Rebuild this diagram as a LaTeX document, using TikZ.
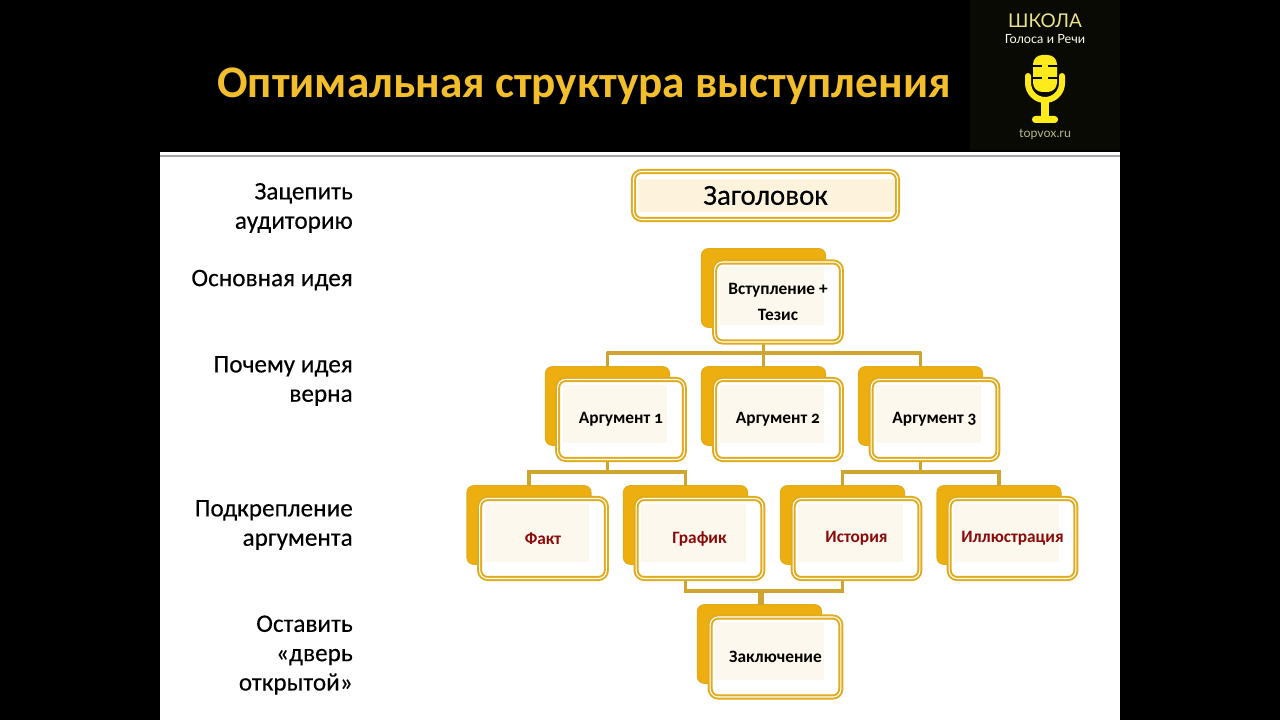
\documentclass[tikz,border=0pt]{standalone}
\usepackage{fontspec}
\setmainfont[Numbers=OldStyle]{Carlito}
\newfontfamily\sidefont[FakeBold=0.25]{Carlito}
\newfontfamily\logofont{Lato}
\usetikzlibrary{calc}
\definecolor{amber}{HTML}{EDAE0F}
\definecolor{goldline}{HTML}{E0AC1E}
\definecolor{linkgold}{HTML}{CFA52F}
\definecolor{tintbox}{HTML}{FDF8EE}
\definecolor{tinthead}{HTML}{FDF3DC}
\definecolor{titlegold}{HTML}{F2BE2C}
\definecolor{micyellow}{HTML}{FFEA1C}
\definecolor{redtext}{HTML}{8A0A0A}
\definecolor{logoback}{HTML}{0A0A05}
\tikzset{
 backbox/.style={draw=goldline,fill=amber,line width=0.8pt,rounded corners=5pt,minimum width=93pt,minimum height=59pt,inner sep=0pt,outer sep=0pt},
 frontbox/.style={draw=goldline,double=white,line width=1.5pt,double distance=0.8pt,rounded corners=6pt,fill=white,minimum width=95pt,minimum height=60pt,inner sep=0pt,outer sep=0pt,align=center,font=\fontsize{13}{19.5}\selectfont\bfseries,
  path picture={\fill[tintbox,sharp corners] ($(path picture bounding box.north west)+(5,5)$) rectangle ($(path picture bounding box.south east)+(-17,-17)$);}},
 sidetext/.style={anchor=east,align=right,inner sep=0pt,font=\sidefont\fontsize{18.9}{22}\selectfont},
 linkline/.style={draw=linkgold,line width=2.8pt},
 logotext/.style={inner sep=0pt}
}
\begin{document}
\begin{tikzpicture}[x=0.75pt,y=-0.75pt]
 \useasboundingbox (0,0) rectangle (1280,720);
 \fill[black] (0,0) rectangle (1280,720);
 \fill[white] (160,152) rectangle (1120,720);
 \fill[gray!70] (160,155.5) rectangle (1120,157);
 \fill[logoback] (970,0) rectangle (1120,150);
 % heading and logo
 \node[inner sep=0pt,text=titlegold,font=\fontsize{33.9}{38}\selectfont\bfseries] (heading) at (584,86) {Оптимальная структура выступления};
 \node[logotext,text=yellow!45!white!90!black,font=\logofont\fontsize{14.2}{16}\selectfont] (school) at (1045,21) {ШКОЛА};
 \node[logotext,text=white!92!yellow,font=\logofont\fontsize{9.5}{10}\selectfont] (voice) at (1045,39) {Голоса и Речи};
 \node[logotext,text=yellow!30!gray!90!white,font=\logofont\fontsize{9.3}{10}\selectfont] (site) at (1045,134) {topvox.ru};
 \fill[micyellow,rounded corners=7pt] (1033,55) rectangle (1057,92);
 \foreach \y in {66,78} {
  \draw[logoback,line width=1.6pt] (1032,\y) -- (1042,\y);
  \draw[logoback,line width=1.6pt] (1048,\y) -- (1058,\y);
 }
 \draw[micyellow,line width=4.5pt,line cap=round] (1028,76) -- (1028,83) arc (180:0:17) -- (1062,76);
 \fill[micyellow] (1041,100) rectangle (1049,118);
 \fill[micyellow,rounded corners=2.5pt] (1032,116) rectangle (1058,123);
 % side texts
 \node[sidetext] (hook) at (353,208) {Зацепить\\аудиторию};
 \node[sidetext] (idea) at (353,280) {Основная идея};
 \node[sidetext] (why) at (353,381) {Почему идея\\верна};
 \node[sidetext] (proof) at (353,525) {Подкрепление\\аргумента};
 \node[sidetext] (door) at (353,655) {Оставить\\«дверь\\открытой»};
 % back boxes
 \foreach \nm/\x/\y in {intro/763.5/288,argA/607.5/406,argB/763.5/406,argC/920.5/406,fact/529/525,chart/685.5/525,story/842.5/525,pict/999/525,outro/759.5/644}
  \node[backbox] (\nm) at (\x,\y) {};
 % links
 \coordinate (introbus) at (763.5,353);
 \coordinate (argAbus) at (607.5,472);
 \coordinate (argCbus) at (920.5,472);
 \coordinate (outrobus) at (761,591);
 \draw[linkline] (intro.south) -- (introbus);
 \draw[linkline,line join=round] (argA.north) |- (introbus) -| (argC.north);
 \draw[linkline] (introbus) -- (argB.north);
 \draw[linkline] (argA.south) -- (argAbus);
 \draw[linkline] (fact.north) |- (argAbus) -| (chart.north);
 \draw[linkline] (argC.south) -- (argCbus);
 \draw[linkline] (story.north) |- (argCbus) -| (pict.north);
 \draw[linkline] (chart.south) |- (outrobus) -| (story.south);
 \draw[linkline,line width=4.5pt] (outrobus) -- (outrobus|-outro.north);
 % front boxes
 \node[frontbox] (headbox) at (765.5,195.5) [minimum width=198pt,minimum height=36pt,font=\sidefont\fontsize{21.7}{24}\selectfont,
  path picture={\fill[white] (path picture bounding box.south west) rectangle (path picture bounding box.north east);
  \fill[tinthead,sharp corners] ($(path picture bounding box.north west)+(4,8)$) rectangle ($(path picture bounding box.south east)+(-4,-7)$);}] {Заголовок};
 \foreach \nm/\x/\y/\txt in {introtext/778/302/{Вступление +\\Тезис},argAtext/621/419.5/Аргумент 1,argBtext/778/419.5/Аргумент 2,argCtext/934.5/419.5/Аргумент 3}
  \node[frontbox] (\nm) at (\x,\y) {\txt};
 \foreach \nm/\x/\y/\txt in {facttext/543/538.5/Факт,charttext/699.5/538.5/График,storytext/856.5/538.5/История,picttext/1012.5/538.5/Иллюстрация}
  \node[frontbox,text=redtext] (\nm) at (\x,\y) {\txt};
 \node[frontbox,minimum width=98pt] (outrotext) at (775.5,657) {Заключение};
\end{tikzpicture}
\end{document}
